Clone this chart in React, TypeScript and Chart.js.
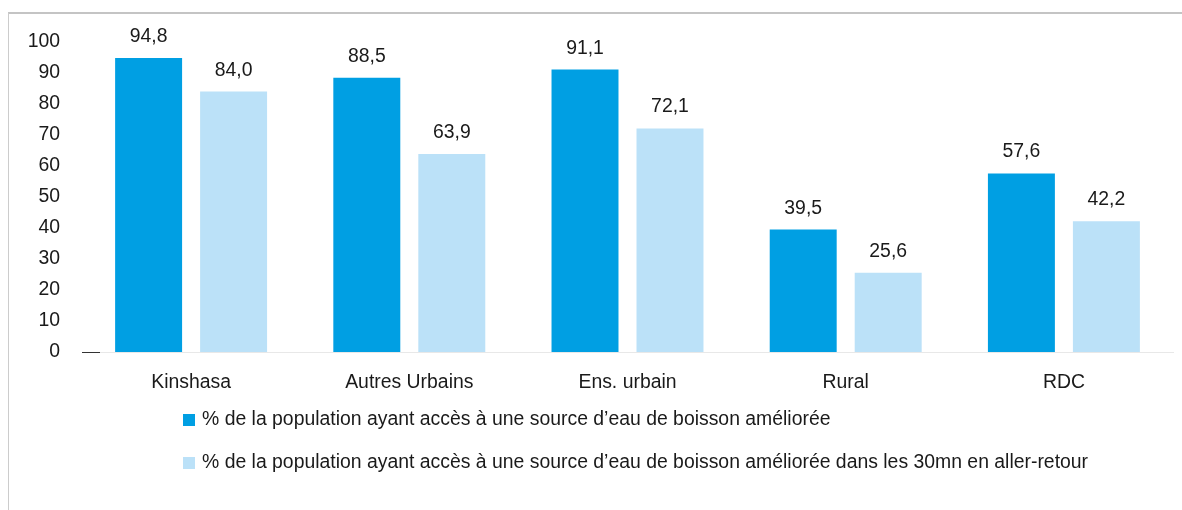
import React, { useEffect, useRef } from "react";
import { Chart, registerables } from "chart.js";

Chart.register(...registerables);

const categories = ["Kinshasa", "Autres Urbains", "Ens. urbain", "Rural", "RDC"];
const improvedSource = [94.8, 88.5, 91.1, 39.5, 57.6];
const improvedWithin30 = [84.0, 63.9, 72.1, 25.6, 42.2];
const seriesLabels = [
  "% de la population ayant accès à une source d’eau de boisson améliorée",
  "% de la population ayant accès à une source d’eau de boisson améliorée dans les 30mn en aller-retour",
];
const seriesColors = ["#009FE3", "#BBE1F8"];

const FONT = "'Liberation Sans', Arial, sans-serif";
const TEXT = "#1a1a1a";
const FS = 19.4;

const fmt = (v: number) => v.toFixed(1).replace(".", ",");

const decorPlugin = {
  id: "decor",
  afterDatasetsDraw(chart: any) {
    const ctx = chart.ctx;
    ctx.save();
    // value labels
    ctx.font = `${FS}px ${FONT}`;
    ctx.fillStyle = TEXT;
    ctx.textAlign = "center";
    ctx.textBaseline = "alphabetic";
    chart.data.datasets.forEach((ds: any, di: number) => {
      const meta = chart.getDatasetMeta(di);
      meta.data.forEach((bar: any, i: number) => {
        ctx.fillText(fmt(ds.data[i]), bar.x, bar.y - 16);
      });
    });
    // dark dash at zero
    const y0 = chart.scales.y.getPixelForValue(0);
    const left = chart.chartArea.left;
    ctx.strokeStyle = "#333";
    ctx.lineWidth = 1;
    ctx.beginPath();
    ctx.moveTo(left, y0 + 0.5);
    ctx.lineTo(left + 18, y0 + 0.5);
    ctx.stroke();
    // legend
    const rows = [406, 449];
    chart.data.datasets.forEach((ds: any, di: number) => {
      const cy = rows[di];
      ctx.fillStyle = ds.backgroundColor;
      ctx.fillRect(174, cy - 6, 12, 12);
      ctx.fillStyle = TEXT;
      ctx.textAlign = "left";
      ctx.textBaseline = "middle";
      ctx.fillText(ds.label, 193, cy);
    });
    ctx.restore();
  },
};

export default function App() {
  const canvasRef = useRef<HTMLCanvasElement>(null);

  useEffect(() => {
    if (!canvasRef.current) return;
    const chart = new Chart(canvasRef.current, {
      type: "bar",
      data: {
        labels: categories,
        datasets: [
          {
            label: seriesLabels[0],
            data: improvedSource,
            backgroundColor: seriesColors[0],
            categoryPercentage: 0.779,
            barPercentage: 0.788,
          },
          {
            label: seriesLabels[1],
            data: improvedWithin30,
            backgroundColor: seriesColors[1],
            categoryPercentage: 0.779,
            barPercentage: 0.788,
          },
        ],
      },
      options: {
        animation: false,
        responsive: false,
        maintainAspectRatio: false,
        layout: { padding: { top: 28, right: 9, bottom: 108, left: 0 } },
        plugins: {
          legend: { display: false },
          tooltip: { enabled: false },
        },
        scales: {
          x: {
            grid: { display: false, drawTicks: false },
            border: { display: true, color: "#e8e8e8", width: 1 },
            ticks: { font: { size: FS, family: FONT }, color: TEXT, padding: 19 },
            afterFit: (s: any) => {
              s.height = 50;
              s.paddingLeft = 0;
              s.paddingRight = 0;
            },
          },
          y: {
            min: 0,
            max: 100,
            grid: { display: false, drawTicks: false },
            border: { display: false },
            ticks: { stepSize: 10, font: { size: FS, family: FONT }, color: TEXT, padding: 22 },
            afterFit: (s: any) => {
              s.width = 73;
              s.paddingTop = 0;
              s.paddingBottom = 0;
            },
          },
        },
      },
      plugins: [decorPlugin],
    });
    return () => chart.destroy();
  }, []);

  return (
    <div
      style={{
        position: "fixed",
        left: 8,
        top: 12,
        width: 1174,
        height: 498,
        borderTop: "2px solid #c4c4c4",
        borderLeft: "1px solid #cccccc",
        background: "#fff",
      }}
    >
      <canvas ref={canvasRef} width={1173} height={496} style={{ display: "block" }} />
    </div>
  );
}
